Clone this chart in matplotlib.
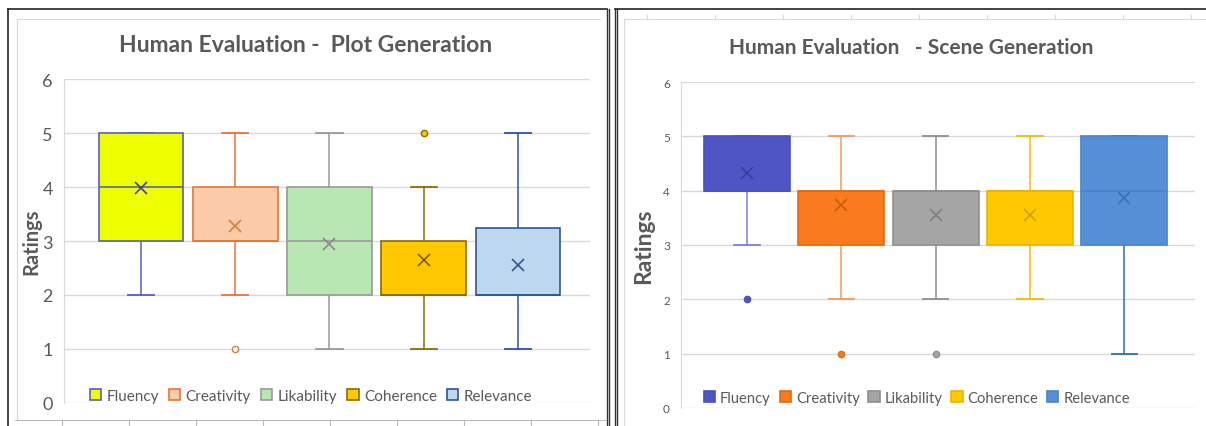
import matplotlib
matplotlib.use("Agg")
import matplotlib.pyplot as plt
from matplotlib.patches import Patch
from matplotlib.lines import Line2D

plt.rcParams['font.family'] = ['Lato', 'DejaVu Sans']

categories = ["Fluency", "Creativity", "Likability", "Coherence", "Relevance"]

# Plot Generation
plot_whislo = [2, 2, 1, 1, 1]
plot_q1 = [3, 3, 2, 2, 2]
plot_med = [4, 3, 3, 2, 2]
plot_q3 = [5, 4, 4, 3, 3.25]
plot_whishi = [5, 5, 5, 4, 5]
plot_mean = [3.98, 3.27, 2.95, 2.65, 2.55]
plot_outliers = [[], [1], [], [5], []]

# Scene Generation
scene_whislo = [3, 2, 2, 2, 1]
scene_q1 = [4, 3, 3, 3, 3]
scene_med = [4, 4, 4, 4, 4]
scene_q3 = [5, 4, 4, 4, 5]
scene_whishi = [5, 5, 5, 5, 5]
scene_mean = [4.33, 3.73, 3.56, 3.56, 3.86]
scene_outliers = [[2], [1], [1], [], []]

plot_face = ["#EEFF00", "#FBCBA9", "#B9E7B4", "#FFC800", "#BDD7EE"]
plot_edge = ["#5B5FB5", "#E0783A", "#999999", "#8C6D00", "#2F5597"]
plot_whisk = plot_edge
plot_meanc = ["#3F4398", "#E0783A", "#8A8A8A", "#7A5F00", "#2F5597"]
plot_flierface = ["#EEFF00", "white", "#B9E7B4", "#FFC800", "#BDD7EE"]

scene_face = ["#4F55C4", "#FA7A1E", "#A5A5A5", "#FFC900", "#5590D6"]
scene_edge = ["#4A50BE", "#E26A12", "#8F8F8F", "#E8B600", "#4A82C8"]
scene_whisk = ["#7C80D2", "#F09A62", "#8F8F8F", "#F0BE00", "#2E6DB4"]
scene_meanc = ["#383DA0", "#C85E10", "#808080", "#D0A400", "#3A70B8"]
scene_flierface = scene_face

W, H = 1206, 427
fig = plt.figure(figsize=(W / 100, H / 100), dpi=100)


def px_rect(x0, y0, x1, y1):
    return [x0 / W, 1 - y1 / H, (x1 - x0) / W, (y1 - y0) / H]


def fig_line(xs, ys, color, lw):
    fig.add_artist(Line2D([x / W for x in xs], [1 - y / H for y in ys],
                          color=color, lw=lw, transform=fig.transFigure))


# panel frames
fig_line([8, 8], [10, 427], "#222222", 1.2)
fig_line([8, 607], [10, 10], "#222222", 1.2)
fig_line([606.5, 606.5], [10, 427], "#333333", 1.0)
fig_line([609, 609], [10, 427], "#333333", 1.0)
fig_line([614.5, 614.5], [10, 427], "#333333", 1.0)
fig_line([616.5, 616.5], [10, 427], "#333333", 1.0)
fig_line([615, 1206], [10, 10], "#222222", 1.2)
fig_line([17, 17, 600], [421, 20, 20], "#d9d9d9", 0.8)
fig_line([624, 624, 1206], [427, 20, 20], "#d9d9d9", 0.8)
fig_line([15, 605], [421, 421], "#bbbbbb", 0.8)
for tx in [62, 129, 196, 263, 330, 397, 464, 531, 598]:
    fig_line([tx, tx], [421, 427], "#bbbbbb", 0.8)
for tx in [647, 715, 783, 851, 919, 987, 1055, 1123, 1191]:
    fig_line([tx, tx], [20, 16], "#d9d9d9", 0.8)


def draw(ax, whislo, q1, med, q3, whishi, mean, outliers, face, edge, whisk, meanc, flierface,
         xlim, width, capw, ylab_size, tick_size):
    for i in range(len(categories)):
        s = dict(label=categories[i], whislo=whislo[i], q1=q1[i], med=med[i],
                 q3=q3[i], whishi=whishi[i], mean=mean[i], fliers=outliers[i])
        ax.bxp([s], positions=[i + 1], widths=width, capwidths=capw,
               patch_artist=True, showmeans=True, showfliers=True,
               boxprops=dict(facecolor=face[i], edgecolor=edge[i], linewidth=1.2, zorder=3),
               medianprops=dict(color=edge[i], linewidth=1.2, zorder=3.5),
               whiskerprops=dict(color=whisk[i], linewidth=1.1, zorder=2),
               capprops=dict(color=whisk[i], linewidth=1.3, zorder=2),
               meanprops=dict(marker='x', markeredgecolor=meanc[i], markersize=8,
                              markeredgewidth=1.2, zorder=4),
               flierprops=dict(marker='o', markerfacecolor=flierface[i],
                               markeredgecolor=edge[i], markersize=4.5, markeredgewidth=1.0))
    ax.set_xlim(*xlim)
    ax.set_ylim(0, 6)
    ax.set_yticks(range(7))
    ax.set_xticks([])
    ax.grid(axis='y', color='#d9d9d9', linewidth=1.0)
    ax.set_axisbelow(True)
    for sp in ['top', 'right', 'bottom']:
        ax.spines[sp].set_visible(False)
    ax.spines['left'].set_color('#d9d9d9')
    ax.tick_params(axis='y', length=0, labelsize=tick_size, labelcolor='#595959', pad=8)
    ax.set_ylabel("Ratings", fontsize=ylab_size, fontweight='bold', color='#595959')
    return [Patch(facecolor=face[i], edgecolor=edge[i], linewidth=1.2, label=categories[i])
            for i in range(len(categories))]


axL = fig.add_axes(px_rect(64, 80, 590, 404))
hL = draw(axL, plot_whislo, plot_q1, plot_med, plot_q3, plot_whishi, plot_mean, plot_outliers,
          plot_face, plot_edge, plot_whisk, plot_meanc, plot_flierface,
          (0.183, 5.764), 0.90, 0.28, 14.5, 13)
axL.yaxis.set_label_coords((41 - 64) / 526, 0.5)
legL = axL.legend(handles=hL, loc='center', bbox_to_anchor=(311 / W, 1 - 397 / H),
                  bbox_transform=fig.transFigure, ncol=5, frameon=True, fontsize=11,
                  handlelength=0.75, handleheight=0.75, handletextpad=0.35, columnspacing=0.65,
                  borderpad=0.2, labelcolor='#595959')
legL.get_frame().set_facecolor('white')
legL.get_frame().set_edgecolor('none')
legL.get_frame().set_alpha(1)
fig.text(306 / W, 1 - 46 / H, "Human Evaluation -  Plot Generation", ha='center', va='center',
         fontsize=16.5, color='#595959', fontweight='bold')

axR = fig.add_axes(px_rect(681, 83, 1195, 409))
hR = draw(axR, scene_whislo, scene_q1, scene_med, scene_q3, scene_whishi, scene_mean, scene_outliers,
          scene_face, scene_edge, scene_whisk, scene_meanc, scene_flierface,
          (0.30, 5.75), 0.91, 0.27, 16.5, 8.5)
axR.yaxis.set_label_coords((654 - 681) / 514, 0.5)
legR = axR.legend(handles=hR, loc='center', bbox_to_anchor=(917 / W, 1 - 399 / H),
                  bbox_transform=fig.transFigure, ncol=5, frameon=False, fontsize=10.6,
                  handlelength=0.75, handleheight=0.75, handletextpad=0.35, columnspacing=0.6,
                  borderpad=0.2, labelcolor='#595959')
fig.text(911 / W, 1 - 48 / H, "Human Evaluation   - Scene Generation", ha='center', va='center',
         fontsize=15, color='#595959', fontweight='bold')

fig.savefig("out.png", dpi=100)
